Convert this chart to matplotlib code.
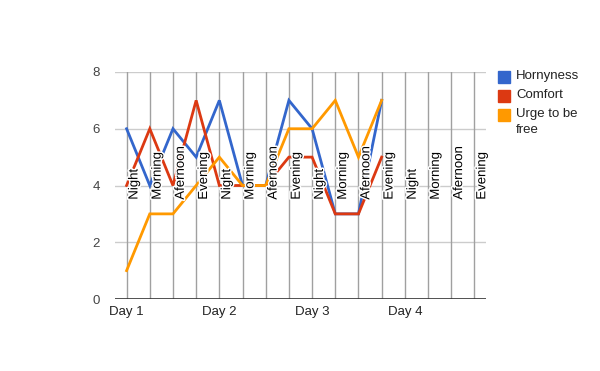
import matplotlib
matplotlib.use('Agg')
import matplotlib.pyplot as plt
import matplotlib.patheffects as pe
from matplotlib.patches import Rectangle

plt.rcParams['font.family'] = ['Liberation Sans', 'DejaVu Sans']

# categories (4 parts per day, 4 days)
parts = ['Night', 'Morning', 'Afernoon', 'Evening']
days = ['Day 1', 'Day 2', 'Day 3', 'Day 4']
labels = parts * 4

# series (only first 12 slots have values)
hornyness = [6, 4, 6, 5, 7, 4, 4, 7, 6, 3, 3, 7]
comfort = [4, 6, 4, 7, 4, 4, 4, 5, 5, 3, 3, 5]
urge = [1, 3, 3, 4, 5, 4, 4, 6, 6, 7, 5, 7]
names = ['Hornyness', 'Comfort', 'Urge to be\nfree']
colors = ['#3366cc', '#dc3912', '#ff9900']

fig = plt.figure(figsize=(6, 3.71), dpi=100)
ax = fig.add_axes([115/600, 1-299/371, 371/600, 227/371])

n = len(labels)
ax.set_xlim(-0.5, n - 0.5)
ax.set_ylim(0, 8)

# grid
for y in [2, 4, 6, 8]:
    ax.axhline(y, color='#cccccc', lw=1, zorder=0)
for i in range(n):
    ax.axvline(i, color='#a0a0a0', lw=1, zorder=0)
ax.axhline(0, color='#333333', lw=1.2, zorder=1)

for vals, c in zip([hornyness, comfort, urge], colors):
    ax.plot(range(len(vals)), vals, color=c, lw=2, zorder=2, solid_joinstyle='miter')

for i, lab in enumerate(labels):
    ax.text(i + 0.08, 3.5, lab, rotation=90, ha='left', va='bottom',
            fontsize=9.5, color='#000000', zorder=5,
            path_effects=[pe.withStroke(linewidth=2.2, foreground='white')])

ax.set_yticks([0, 2, 4, 6, 8])
ax.set_xticks([0, 4, 8, 12])
ax.set_xticklabels(days)
ax.tick_params(axis='both', length=0, labelsize=9.5, colors='#222222')
ax.tick_params(axis='y', pad=11, colors='#444444')
ax.tick_params(axis='x', pad=5)
for s in ax.spines.values():
    s.set_visible(False)

# legend
ys = [77, 96, 115]
for name, c, y in zip(names, colors, ys):
    fig.patches.append(Rectangle((498/600, 1-(y+6)/371), 12/600, 12/371,
                                 transform=fig.transFigure, color=c))
    fig.text(516/600, 1-(y-7)/371, name, ha='left', va='top',
             fontsize=9.5, color='#222222', linespacing=1.45)

fig.savefig('out.png', dpi=100)
